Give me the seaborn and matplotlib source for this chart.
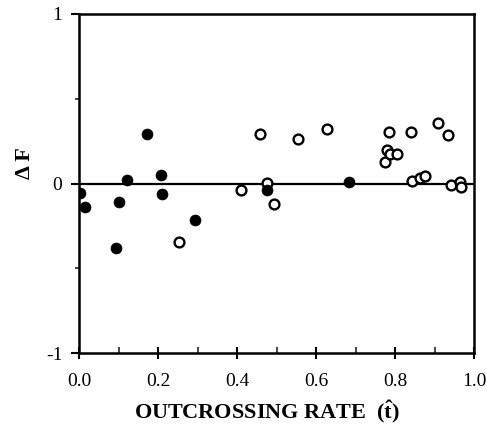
import numpy as np
import pandas as pd
import matplotlib
matplotlib.use("Agg")
import matplotlib.pyplot as plt
import seaborn as sns

# Data
filled_x = [0.003, 0.015, 0.093, 0.102, 0.121, 0.173, 0.207, 0.211, 0.293, 0.476, 0.684]
filled_y = [-0.054, -0.14, -0.379, -0.107, 0.02, 0.29, 0.05, -0.064, -0.215, -0.038, 0.011]

open_x = [0.253, 0.41, 0.459, 0.476, 0.493, 0.554, 0.628, 0.774, 0.779, 0.784, 0.788,
          0.805, 0.84, 0.843, 0.864, 0.875, 0.909, 0.935, 0.943, 0.965, 0.967]
open_y = [-0.345, -0.038, 0.292, 0.005, -0.123, 0.26, 0.32, 0.125, 0.198, 0.304, 0.176,
          0.176, 0.302, 0.017, 0.03, 0.046, 0.355, 0.284, -0.009, 0.007, -0.022]

x_ticks = [0.0, 0.2, 0.4, 0.6, 0.8, 1.0]
x_tick_labels = ["0.0", "0.2", "0.4", "0.6", "0.8", "1.0"]
y_ticks = [-1, 0, 1]
y_tick_labels = ["-1", "0", "1"]

sns.set_theme(style="white")
plt.rcParams["font.family"] = ["Liberation Serif", "DejaVu Serif"]
plt.rcParams["mathtext.fontset"] = "custom"
plt.rcParams["mathtext.rm"] = "Liberation Serif"
plt.rcParams["mathtext.bf"] = "Liberation Serif:bold"
plt.rcParams["mathtext.it"] = "Liberation Serif:italic"

fig = plt.figure(figsize=(4.87, 4.30), dpi=100)
ax = fig.add_axes([79/487, 1-353/430, (474-79)/487, (353-14)/430])

df_f = pd.DataFrame({"x": filled_x, "y": filled_y})
df_o = pd.DataFrame({"x": open_x, "y": open_y})

ax.axhline(0, color="black", lw=1.6, zorder=1)
sns.scatterplot(data=df_o, x="x", y="y", ax=ax, s=50, facecolor="white",
                edgecolor="black", linewidth=1.7, zorder=3)
sns.scatterplot(data=df_f, x="x", y="y", ax=ax, s=62, color="black",
                edgecolor="black", linewidth=0.5, zorder=4)

ax.set_xlim(0, 1)
ax.set_ylim(-1, 1)
ax.set_xticks(x_ticks)
ax.set_xticklabels(x_tick_labels)
ax.set_xticks([0.1, 0.3, 0.5, 0.7, 0.9], minor=True)
ax.set_yticks(y_ticks)
ax.set_yticklabels(y_tick_labels)
ax.set_yticks([-0.5, 0.5], minor=True)

ax.tick_params(axis="x", which="major", direction="inout", length=9, width=1.5,
               labelsize=14, pad=10, colors="black")
ax.tick_params(axis="x", which="minor", direction="in", length=4, width=1.2)
ax.tick_params(axis="y", which="major", direction="out", length=6, width=1.5,
               labelsize=14, pad=6, colors="black")
ax.tick_params(axis="y", which="minor", direction="out", length=3, width=1.2)
ax.tick_params(bottom=True, left=True, which="both")

for sp in ax.spines.values():
    sp.set_color("black")
    sp.set_linewidth(1.8)

ax.set_xlabel(r"OUTCROSSING RATE  ($\mathbf{\hat{t}}$)", fontsize=16,
              fontweight="bold", color="black", va="top")
ax.xaxis.set_label_coords(0.476, -0.135)
ax.set_ylabel("\u0394 F", fontsize=16, fontweight="bold", color="black",
              va="center")
ax.yaxis.set_label_coords(-0.137, 0.56)

fig.savefig("out.png", dpi=100)
